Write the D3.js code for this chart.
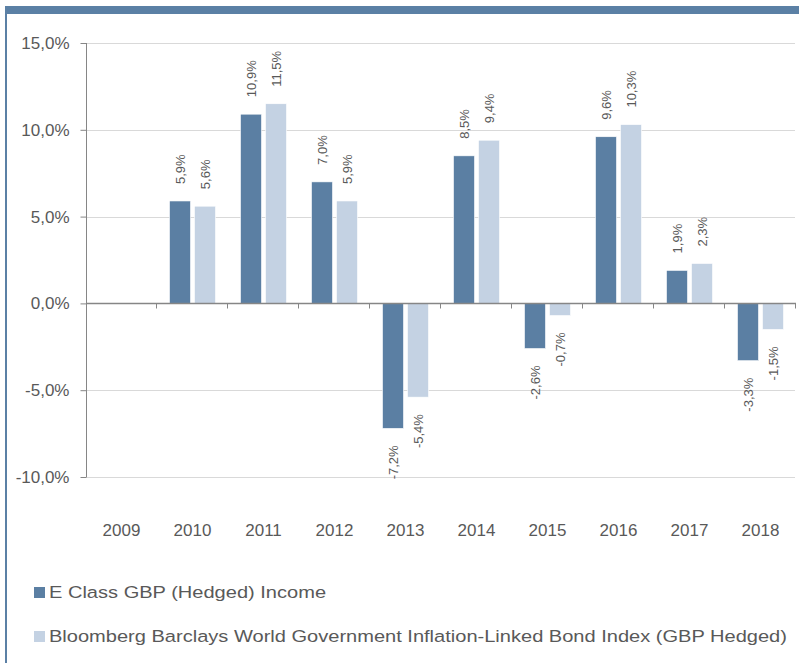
<!DOCTYPE html>
<meta charset="utf-8">
<style>
body { margin: 0; background: #fff; }
text { font-family: "Liberation Sans", Arial, sans-serif; fill: #595959; }
.grid line { stroke: #d9d9d9; stroke-width: 1px; }
</style>
<body>
<script src="https://d3js.org/d3.v7.min.js"></script>
<script>

// data
var years = ["2009", "2010", "2011", "2012", "2013", "2014", "2015", "2016", "2017", "2018"];
var fundValues = [null, 5.9, 10.9, 7.0, -7.2, 8.5, -2.6, 9.6, 1.9, -3.3];
var indexValues = [null, 5.6, 11.5, 5.9, -5.4, 9.4, -0.7, 10.3, 2.3, -1.5];
var seriesNames = ["E Class GBP (Hedged) Income",
  "Bloomberg Barclays World Government Inflation-Linked Bond Index (GBP Hedged)"];
var yTicks = [-10, -5, 0, 5, 10, 15];

var colors = ["#5b7fa3", "#c4d2e3"];

var width = 799, height = 663;
var plot = {left: 86, right: 796, top: 43, bottom: 477};

var svg = d3.select("body").append("svg")
    .attr("width", width)
    .attr("height", height);

// frame: blue band at top, thin line at left
svg.append("rect").attr("x", 5).attr("y", 6).attr("width", width - 5).attr("height", 8).attr("fill", "#5b80a5");
svg.append("rect").attr("x", 5).attr("y", 6).attr("width", 2).attr("height", height - 6).attr("fill", "#5b80a5");

var x = d3.scaleBand().domain(years).range([plot.left, plot.right]);
var xs = d3.scaleBand().domain([0, 1]).range([0, x.bandwidth()]).paddingInner(0.16).paddingOuter(0.5);
var y = d3.scaleLinear().domain([-10, 15]).range([plot.bottom, plot.top]);

var fmt = function(v) { return d3.format(".1f")(v).replace(".", ",").replace("−", "-") + "%"; };

// gridlines
svg.append("g").attr("class", "grid")
  .selectAll("line").data(yTicks.filter(function(d) { return d !== 0; }))
  .join("line")
    .attr("x1", plot.left).attr("x2", plot.right - 1)
    .attr("y1", function(d) { return Math.round(y(d)) + 0.5; })
    .attr("y2", function(d) { return Math.round(y(d)) + 0.5; });

// y axis
var yAxis = svg.append("g")
    .attr("transform", "translate(" + (plot.left + 0.5) + ",0)")
    .call(d3.axisLeft(y).tickValues(yTicks).tickSize(6).tickPadding(11).tickFormat(fmt));
yAxis.select(".domain").attr("stroke", "#868686").attr("d", "M0," + y(15) + "V" + y(-10));
yAxis.selectAll(".tick line").attr("stroke", "#868686");
yAxis.selectAll(".tick text").style("font-size", "17px").attr("fill", "#595959");

// bars
var series = [fundValues, indexValues];
series.forEach(function(vals, s) {
  var rows = years.map(function(yr, i) { return {year: yr, v: vals[i]}; })
    .filter(function(d) { return d.v !== null; });

  svg.append("g").selectAll("rect").data(rows).join("rect")
    .attr("x", function(d) { return x(d.year) + xs(s); })
    .attr("width", xs.bandwidth())
    .attr("y", function(d) { return y(Math.max(0, d.v)); })
    .attr("height", function(d) { return Math.abs(y(d.v) - y(0)); })
    .attr("fill", colors[s])
    .attr("stroke", "#fff")
    .attr("stroke-width", 0.6);

  svg.append("g").selectAll("text").data(rows).join("text")
    .attr("transform", function(d) {
      var cx = x(d.year) + xs(s) + xs.bandwidth() / 2;
      var cy = d.v >= 0 ? y(d.v) - 17 : y(d.v) + 17;
      return "translate(" + cx + "," + cy + ") rotate(-90)";
    })
    .attr("text-anchor", function(d) { return d.v >= 0 ? "start" : "end"; })
    .attr("dy", "0.35em")
    .style("font-size", "13px")
    .text(function(d) { return fmt(d.v); });
});

// x axis along zero
var xAxis = svg.append("g")
    .attr("transform", "translate(0," + (Math.round(y(0)) + 0.5) + ")");
xAxis.append("line").attr("x1", plot.left).attr("x2", plot.right).attr("stroke", "#868686").attr("stroke-width", 1.5);
xAxis.selectAll(".xt").data(years.slice(1).concat(["end"])).join("line")
    .attr("class", "xt")
    .attr("x1", function(d, i) { return (d === "end" ? plot.right : x(d)) - 0.5; })
    .attr("x2", function(d, i) { return (d === "end" ? plot.right : x(d)) - 0.5; })
    .attr("y1", 0).attr("y2", 5)
    .attr("stroke", "#868686");

// category labels below the plot
svg.append("g").selectAll("text").data(years).join("text")
    .attr("x", function(d) { return x(d) + x.bandwidth() / 2; })
    .attr("y", 536)
    .attr("text-anchor", "middle")
    .style("font-size", "17px")
    .text(function(d) { return d; });

// legend
var legend = svg.append("g").selectAll("g").data(seriesNames).join("g")
    .attr("transform", function(d, i) { return "translate(34," + (587 + i * 44) + ")"; });
legend.append("rect").attr("width", 11).attr("height", 11)
    .attr("fill", function(d, i) { return colors[i]; });
legend.append("text")
    .attr("transform", "translate(15,11) scale(1.18,1)")
    .style("font-size", "17px")
    .text(function(d) { return d; });

</script>
</body>
